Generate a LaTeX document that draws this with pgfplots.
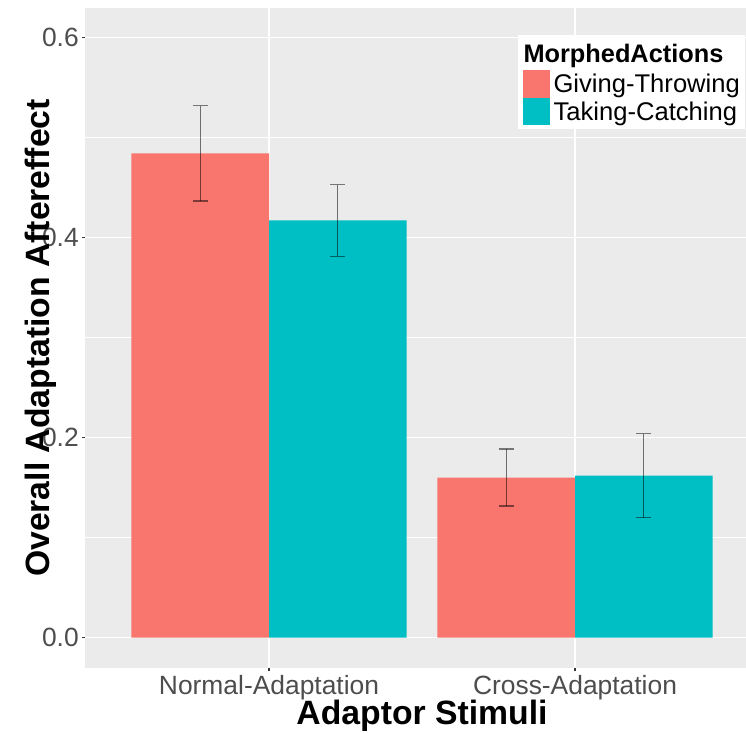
\documentclass[border=0pt]{standalone}
\usepackage{fontspec}
\setmainfont{Liberation Sans}
\usepackage{pgfplots}
\pgfplotsset{compat=1.18}
\definecolor{gtred}{HTML}{F8766D}
\definecolor{tcteal}{HTML}{00BFC4}
\definecolor{panelgrey}{HTML}{EBEBEB}
\definecolor{ticktext}{HTML}{4D4D4D}
\definecolor{tickline}{HTML}{333333}

\begin{document}
\begin{tikzpicture}
\useasboundingbox (0,0) rectangle (559.5pt,549pt);
\begin{axis}[
  at={(64.05pt,48pt)}, anchor=south west,
  scale only axis, width=504.9pt, height=495pt,
  xmin=0.4, xmax=2.6, ymin=-0.0303, ymax=0.6293,
  axis background/.style={fill=panelgrey},
  axis line style={draw=none},
  xtick={1,2}, xticklabels={Normal-Adaptation,Cross-Adaptation},
  ytick={0,0.2,0.4,0.6}, yticklabels={0.0,0.2,0.4,0.6},
  minor ytick={0.1,0.3,0.5},
  xmajorgrids, ymajorgrids, yminorgrids,
  major grid style={white, line width=1.1pt},
  minor grid style={white, line width=0.55pt},
  tick pos=left, tick align=outside,
  major tick length=2.5pt, minor tick length=0pt,
  major tick style={tickline, line width=0.8pt},
  ticklabel style={font=\fontsize{19.8}{23}\selectfont, text=ticktext, inner sep=0pt},
  xticklabel style={anchor=base, yshift=-17pt},
  yticklabel style={anchor=east, xshift=-2.3pt},
  xlabel={Adaptor Stimuli}, ylabel={Overall Adaptation Aftereffect},
  label style={font=\bfseries\fontsize{25.3}{30}\selectfont, inner sep=0pt},
  xlabel style={at={(axis description cs:0.5,-0.0860)}, anchor=base},
  ylabel style={at={(axis description cs:-0.0533,0.5)}, anchor=base},
  legend cell align=left,
  legend style={at={(axis description cs:0.6416,0.9591)}, anchor=north west,
    fill=white, draw=none, inner xsep=4pt, inner ysep=2.5pt,
    row sep=0pt, column sep=3pt,
    font=\fontsize{19.2}{23}\selectfont,
    nodes={inner sep=0pt, text height=17.3pt, text depth=3.5pt}},
]
% legend title
\addlegendimage{empty legend}
\addlegendentry[font=\bfseries\fontsize{19}{23}\selectfont, text height=18pt, text depth=5.5pt]{\hspace*{-22.5pt}MorphedActions}

% Giving-Throwing
\addplot[ybar, bar width=0.45, bar shift=0pt, fill=gtred, draw=none,
  legend image code/.code={\path (0pt,-10.4pt) rectangle (19.95pt,10.4pt);
    \fill[gtred] (0pt,-9.95pt) rectangle (19.95pt,9.95pt);},
  error bars/.cd, y dir=both, y explicit,
  error bar style={line width=0.9pt, black, opacity=0.5},
  error mark options={rotate=90, black, opacity=0.5, line width=0.9pt, mark size=5.6pt}]
coordinates {(0.775,0.484) +- (0,0.0475) (1.775,0.160) +- (0,0.0285)};
\addlegendentry{Giving-Throwing}

% Taking-Catching
\addplot[ybar, bar width=0.45, bar shift=0pt, fill=tcteal, draw=none,
  legend image code/.code={\path (0pt,-10.4pt) rectangle (19.95pt,10.4pt);
    \fill[tcteal] (0pt,-9.95pt) rectangle (19.95pt,9.95pt);},
  error bars/.cd, y dir=both, y explicit,
  error bar style={line width=0.9pt, black, opacity=0.5},
  error mark options={rotate=90, black, opacity=0.5, line width=0.9pt, mark size=5.6pt}]
coordinates {(1.225,0.417) +- (0,0.0358) (2.225,0.162) +- (0,0.042)};
\addlegendentry{Taking-Catching}
\end{axis}
\end{tikzpicture}
\end{document}
